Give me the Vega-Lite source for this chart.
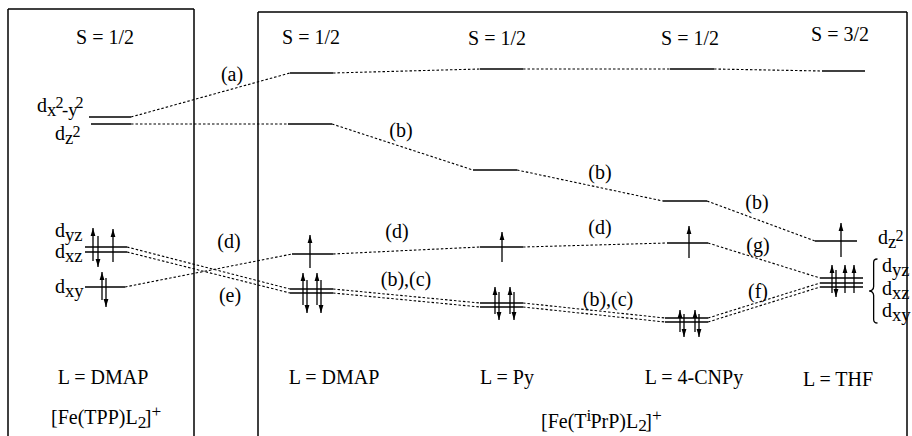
{
  "$schema": "https://vega.github.io/schema/vega-lite/v6.json",
  "width": 912,
  "height": 436,
  "padding": 0,
  "autosize": {"type": "none"},
  "background": "white",
  "config": {"view": {"stroke": null}},
  "datasets": {
    "boxes": [
      {"x": 8, "y": 9, "x2": 8, "y2": 436},
      {"x": 8, "y": 9, "x2": 194, "y2": 9},
      {"x": 194, "y": 9, "x2": 194, "y2": 436},
      {"x": 258, "y": 12, "x2": 258, "y2": 436},
      {"x": 258, "y": 12, "x2": 907, "y2": 12},
      {"x": 907, "y": 12, "x2": 907, "y2": 436}
    ],
    "levels": [
      {"x": 89, "x2": 131, "y": 117},
      {"x": 91, "x2": 131, "y": 124},
      {"x": 85, "x2": 127, "y": 247},
      {"x": 85, "x2": 127, "y": 252},
      {"x": 85, "x2": 125, "y": 287},
      {"x": 290, "x2": 333, "y": 73},
      {"x": 288, "x2": 332, "y": 124},
      {"x": 292, "x2": 333, "y": 254},
      {"x": 290, "x2": 333, "y": 289},
      {"x": 290, "x2": 333, "y": 293},
      {"x": 480, "x2": 523, "y": 69},
      {"x": 473, "x2": 517, "y": 170},
      {"x": 480, "x2": 523, "y": 247},
      {"x": 480, "x2": 523, "y": 303},
      {"x": 480, "x2": 523, "y": 307},
      {"x": 670, "x2": 714, "y": 69},
      {"x": 663, "x2": 707, "y": 201},
      {"x": 667, "x2": 708, "y": 243},
      {"x": 665, "x2": 708, "y": 318},
      {"x": 665, "x2": 708, "y": 322},
      {"x": 822, "x2": 865, "y": 71},
      {"x": 815, "x2": 857, "y": 241},
      {"x": 820, "x2": 863, "y": 278},
      {"x": 820, "x2": 863, "y": 283},
      {"x": 820, "x2": 863, "y": 287}
    ],
    "connectors": [
      {"x": 131, "y": 117, "x2": 290, "y2": 73},
      {"x": 333, "y": 73, "x2": 480, "y2": 69},
      {"x": 523, "y": 69, "x2": 670, "y2": 69},
      {"x": 714, "y": 69, "x2": 822, "y2": 71},
      {"x": 131, "y": 124, "x2": 288, "y2": 124},
      {"x": 332, "y": 124, "x2": 473, "y2": 170},
      {"x": 517, "y": 170, "x2": 663, "y2": 201},
      {"x": 707, "y": 201, "x2": 815, "y2": 241},
      {"x": 125, "y": 287, "x2": 292, "y2": 254},
      {"x": 333, "y": 254, "x2": 480, "y2": 247},
      {"x": 523, "y": 247, "x2": 667, "y2": 243},
      {"x": 708, "y": 243, "x2": 820, "y2": 278},
      {"x": 127, "y": 247, "x2": 290, "y2": 289},
      {"x": 127, "y": 252, "x2": 290, "y2": 293},
      {"x": 333, "y": 289, "x2": 480, "y2": 303},
      {"x": 333, "y": 293, "x2": 480, "y2": 307},
      {"x": 523, "y": 303, "x2": 665, "y2": 318},
      {"x": 523, "y": 307, "x2": 665, "y2": 322},
      {"x": 708, "y": 318, "x2": 820, "y2": 283},
      {"x": 708, "y": 322, "x2": 820, "y2": 287}
    ],
    "arrows": [
      {"x": 93, "top": 228, "bottom": 261, "dir": "up"},
      {"x": 98, "top": 236, "bottom": 267, "dir": "down"},
      {"x": 113, "top": 229, "bottom": 262, "dir": "up"},
      {"x": 102, "top": 272, "bottom": 300, "dir": "up"},
      {"x": 106, "top": 278, "bottom": 307, "dir": "down"},
      {"x": 310, "top": 235, "bottom": 268, "dir": "up"},
      {"x": 303, "top": 273, "bottom": 305, "dir": "up"},
      {"x": 307, "top": 280, "bottom": 313, "dir": "down"},
      {"x": 317, "top": 273, "bottom": 305, "dir": "up"},
      {"x": 321, "top": 280, "bottom": 313, "dir": "down"},
      {"x": 502, "top": 232, "bottom": 262, "dir": "up"},
      {"x": 495, "top": 287, "bottom": 314, "dir": "up"},
      {"x": 499, "top": 292, "bottom": 320, "dir": "down"},
      {"x": 510, "top": 287, "bottom": 314, "dir": "up"},
      {"x": 514, "top": 292, "bottom": 320, "dir": "down"},
      {"x": 689, "top": 226, "bottom": 258, "dir": "up"},
      {"x": 680, "top": 310, "bottom": 332, "dir": "up"},
      {"x": 684, "top": 314, "bottom": 337, "dir": "down"},
      {"x": 695, "top": 310, "bottom": 332, "dir": "up"},
      {"x": 699, "top": 314, "bottom": 337, "dir": "down"},
      {"x": 841, "top": 223, "bottom": 257, "dir": "up"},
      {"x": 832, "top": 265, "bottom": 293, "dir": "up"},
      {"x": 836, "top": 270, "bottom": 297, "dir": "down"},
      {"x": 845, "top": 265, "bottom": 293, "dir": "up"},
      {"x": 854, "top": 265, "bottom": 293, "dir": "up"}
    ],
    "brace": [{"x": 873, "y": 291}],
    "labels": [
      {"text": "S = 1/2", "x": 105, "y": 38},
      {"text": "S = 1/2", "x": 311, "y": 38},
      {"text": "S = 1/2", "x": 497, "y": 39},
      {"text": "S = 1/2", "x": 690, "y": 39},
      {"text": "S = 3/2", "x": 840, "y": 35},
      {"text": "(a)", "x": 232, "y": 75},
      {"text": "(b)", "x": 401, "y": 131},
      {"text": "(b)", "x": 600, "y": 173},
      {"text": "(b)", "x": 757, "y": 203},
      {"text": "(d)", "x": 229, "y": 242},
      {"text": "(d)", "x": 397, "y": 232},
      {"text": "(d)", "x": 600, "y": 228},
      {"text": "(g)", "x": 758, "y": 246},
      {"text": "(e)", "x": 230, "y": 296},
      {"text": "(b),(c)", "x": 406, "y": 280},
      {"text": "(b),(c)", "x": 608, "y": 300},
      {"text": "(f)", "x": 758, "y": 292},
      {"text": "L = DMAP", "x": 103, "y": 378},
      {"text": "L = DMAP", "x": 334, "y": 378},
      {"text": "L = Py", "x": 507, "y": 378},
      {"text": "L = 4-CNPy", "x": 694, "y": 378},
      {"text": "L = THF", "x": 838, "y": 380}
    ],
    "pieces": [
      {"text": "d", "x": 37, "y": 112, "role": "main"},
      {"text": "x", "x": 47, "y": 116, "role": "sub"},
      {"text": "2", "x": 55.5, "y": 108, "role": "sup"},
      {"text": "-y", "x": 62, "y": 116, "role": "sub"},
      {"text": "2", "x": 75.5, "y": 108, "role": "sup"},
      {"text": "d", "x": 55, "y": 140, "role": "main"},
      {"text": "z", "x": 65, "y": 144, "role": "sub"},
      {"text": "2", "x": 72.5, "y": 137, "role": "sup"},
      {"text": "d", "x": 55, "y": 237, "role": "main"},
      {"text": "yz", "x": 65, "y": 241, "role": "sub"},
      {"text": "d", "x": 55, "y": 258, "role": "main"},
      {"text": "xz", "x": 65, "y": 262, "role": "sub"},
      {"text": "d", "x": 55, "y": 293, "role": "main"},
      {"text": "xy", "x": 65, "y": 297, "role": "sub"},
      {"text": "d", "x": 878, "y": 244, "role": "main"},
      {"text": "z", "x": 888, "y": 248, "role": "sub"},
      {"text": "2", "x": 895.5, "y": 241, "role": "sup"},
      {"text": "d", "x": 882, "y": 272, "role": "main"},
      {"text": "yz", "x": 892, "y": 276, "role": "sub"},
      {"text": "d", "x": 882, "y": 295, "role": "main"},
      {"text": "xz", "x": 892, "y": 299, "role": "sub"},
      {"text": "d", "x": 882, "y": 317, "role": "main"},
      {"text": "xy", "x": 892, "y": 321, "role": "sub"},
      {"text": "[Fe(TPP)L", "x": 51, "y": 424, "role": "main"},
      {"text": "2", "x": 137.7, "y": 428, "role": "small"},
      {"text": "]", "x": 144.7, "y": 424, "role": "main"},
      {"text": "+", "x": 151.4, "y": 417, "role": "small"},
      {"text": "[Fe(T", "x": 541, "y": 428, "role": "main"},
      {"text": "i", "x": 586.5, "y": 421, "role": "small"},
      {"text": "PrP)L", "x": 590.4, "y": 428, "role": "main"},
      {"text": "2", "x": 638.2, "y": 431, "role": "small"},
      {"text": "]", "x": 645.2, "y": 428, "role": "main"},
      {"text": "+", "x": 651.9, "y": 421, "role": "small"}
    ]
  },
  "layer": [
    {
      "data": {"name": "boxes"},
      "mark": {"type": "rule", "color": "black", "strokeWidth": 1.5},
      "encoding": {
        "x": {"field": "x", "type": "quantitative", "scale": {"domain": [0, 912], "nice": false, "zero": false}, "axis": null},
        "y": {"field": "y", "type": "quantitative", "scale": {"domain": [0, 436], "nice": false, "zero": false, "reverse": true}, "axis": null},
        "x2": {"field": "x2"},
        "y2": {"field": "y2"}
      }
    },
    {
      "data": {"name": "connectors"},
      "mark": {"type": "rule", "color": "black", "strokeWidth": 1.1, "strokeDash": [2.5, 2]},
      "encoding": {
        "x": {"field": "x", "type": "quantitative"},
        "y": {"field": "y", "type": "quantitative"},
        "x2": {"field": "x2"},
        "y2": {"field": "y2"}
      }
    },
    {
      "data": {"name": "levels"},
      "mark": {"type": "rule", "color": "black", "strokeWidth": 1.6},
      "encoding": {
        "x": {"field": "x", "type": "quantitative"},
        "x2": {"field": "x2"},
        "y": {"field": "y", "type": "quantitative"}
      }
    },
    {
      "data": {"name": "arrows"},
      "mark": {"type": "rule", "color": "black", "strokeWidth": 1.3},
      "encoding": {
        "x": {"field": "x", "type": "quantitative"},
        "y": {"field": "top", "type": "quantitative"},
        "y2": {"field": "bottom"}
      }
    },
    {
      "data": {"name": "arrows"},
      "transform": [{"filter": "datum.dir == 'up'"}],
      "mark": {"type": "point", "shape": "M0,0L0.6,2L-0.6,2Z", "filled": true, "size": 64, "color": "black", "opacity": 1, "strokeWidth": 0},
      "encoding": {
        "x": {"field": "x", "type": "quantitative"},
        "y": {"field": "top", "type": "quantitative"}
      }
    },
    {
      "data": {"name": "arrows"},
      "transform": [{"filter": "datum.dir == 'down'"}],
      "mark": {"type": "point", "shape": "M0,0L0.6,-2L-0.6,-2Z", "filled": true, "size": 64, "color": "black", "opacity": 1, "strokeWidth": 0},
      "encoding": {
        "x": {"field": "x", "type": "quantitative"},
        "y": {"field": "bottom", "type": "quantitative"}
      }
    },
    {
      "data": {"name": "brace"},
      "mark": {"type": "point", "shape": "M0.14,-1C0.04,-1 0.02,-0.96 0.02,-0.88L0.02,-0.14C0.02,-0.05 -0.04,0 -0.12,0C-0.04,0 0.02,0.05 0.02,0.14L0.02,0.88C0.02,0.96 0.04,1 0.14,1", "filled": false, "size": 4096, "color": "black", "opacity": 1, "strokeWidth": 1.3},
      "encoding": {
        "x": {"field": "x", "type": "quantitative"},
        "y": {"field": "y", "type": "quantitative"}
      }
    },
    {
      "data": {"name": "labels"},
      "mark": {"type": "text", "font": "Liberation Serif", "fontSize": 20, "align": "center", "baseline": "middle", "color": "black"},
      "encoding": {
        "x": {"field": "x", "type": "quantitative"},
        "y": {"field": "y", "type": "quantitative"},
        "text": {"field": "text"}
      }
    },
    {
      "data": {"name": "pieces"},
      "mark": {"type": "text", "font": "Liberation Serif", "align": "left", "baseline": "alphabetic", "color": "black"},
      "encoding": {
        "x": {"field": "x", "type": "quantitative"},
        "y": {"field": "y", "type": "quantitative"},
        "text": {"field": "text"},
        "size": {"field": "role", "type": "nominal", "scale": {"domain": ["main", "sub", "small", "sup"], "range": [20, 16, 14, 12]}, "legend": null}
      }
    }
  ]
}
